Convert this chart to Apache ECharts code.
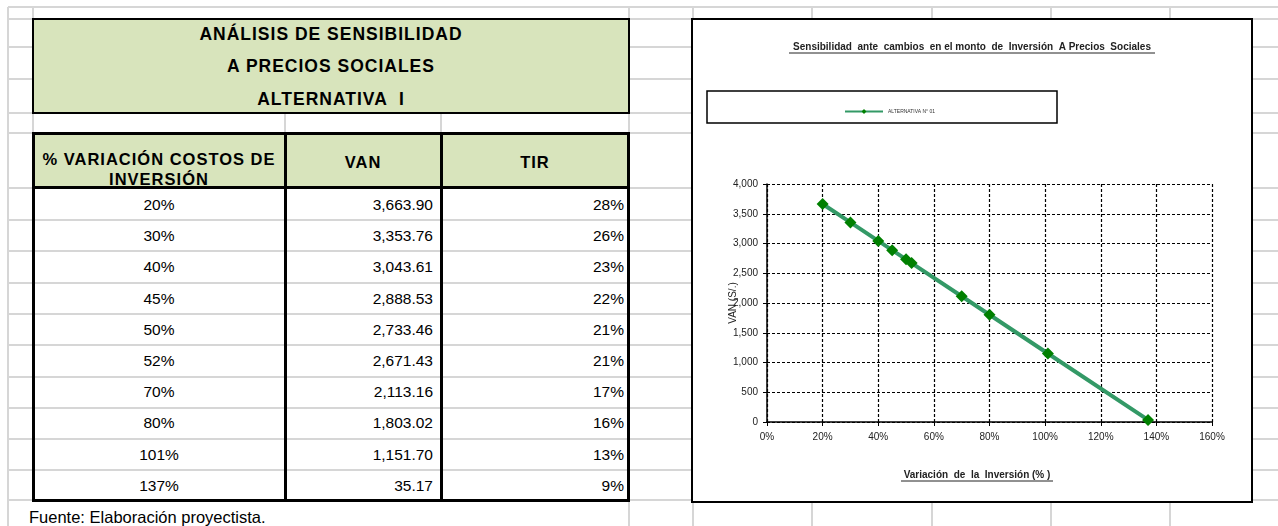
<!DOCTYPE html>
<html>
<head>
<meta charset="utf-8">
<script src="https://cdn.jsdelivr.net/npm/echarts@6/dist/echarts.min.js"></script>
<style>
  body {
    margin: 0;
    width: 1278px;
    height: 526px;
    overflow: hidden;
    background: #fff;
    position: relative;
    font-family: "Liberation Sans", Arial, sans-serif;
  }
  #sheet div { position: absolute; box-sizing: border-box; white-space: nowrap; }
  #chartBox {
    position: absolute;
    left: 691px;
    top: 18px;
    width: 558px;
    height: 481px;
    border: 2px solid #000;
    background: #fff;
  }
  #chart { width: 100%; height: 100%; }
</style>
</head>
<body>
<div id="sheet"></div>
<div id="chartBox"><div id="chart"></div></div>

<script>
// datos de la tabla / gráfico
const variacion = [20, 30, 40, 45, 50, 52, 70, 80, 101, 137]; // % variación costos de inversión
const van = [3663.90, 3353.76, 3043.61, 2888.53, 2733.46, 2671.43, 2113.16, 1803.02, 1151.70, 35.17];
const tir = [28, 26, 23, 22, 21, 21, 17, 16, 13, 9]; // %

const tituloTabla = ["ANÁLISIS DE SENSIBILIDAD", "A PRECIOS SOCIALES", "ALTERNATIVA  I"];
const encabezadoVariacion = ["% VARIACIÓN COSTOS DE", "INVERSIÓN"];
const encabezados = ["VAN", "TIR"];
const fuente = "Fuente: Elaboración proyectista.";

const tituloGrafico = "Sensibilidad  ante  cambios  en el monto  de  Inversión  A Precios  Sociales";
const nombreSerie = "ALTERNATIVA N° 01";
const nombreEjeX = "Variación  de  la  Inversión (% )";
const nombreEjeY = "VAN (S/.)";

// ---- hoja de cálculo (fondo) ----
const sheet = document.getElementById("sheet");
function add(css, html) {
  const d = document.createElement("div");
  d.style.cssText = css;
  if (html != null) d.innerHTML = html;
  sheet.appendChild(d);
  return d;
}

const gridColor = "#d6d6d6";
const hLines = [7, 19, 47, 79, 113, 133, 188, 220, 251, 283, 314, 345, 377, 408, 439, 470, 500];
hLines.forEach(y => add(`left:8px;top:${y - 1}px;width:1270px;height:2px;background:${gridColor}`));
// [x, y desde, y hasta]
const vLines = [[8, 7, 526], [33, 7, 500], [285, 113, 133], [441, 113, 133], [629, 7, 526],
                [693, 7, 526], [812, 7, 526], [932, 7, 526], [1051, 7, 526], [1170, 7, 526]];
vLines.forEach(([x, y1, y2]) => add(`left:${x - 1}px;top:${y1}px;width:2px;height:${y2 - y1}px;background:${gridColor}`));

// recuadro del título
add("left:32px;top:18px;width:598px;height:96px;border:2px solid #000;background:#d8e4bc");
const tituloCentros = [34, 66, 99];
tituloTabla.forEach((t, i) => add(
  `left:33px;width:596px;top:${tituloCentros[i] - 10}px;height:20px;line-height:20px;text-align:center;font-weight:bold;font-size:17.5px;letter-spacing:1px;white-space:pre`, t));

// tabla
const cols = [33, 285, 441, 629];
const rowTop = 188, rowH = 31.2;
const cabecera = "height:20px;line-height:20px;text-align:center;font-weight:bold;font-size:16.5px;letter-spacing:1px";
add("left:33px;top:133px;width:596px;height:55px;background:#d8e4bc");
add(`left:${cols[0]}px;width:${cols[1] - cols[0]}px;top:149px;${cabecera}`, encabezadoVariacion[0]);
add(`left:${cols[0]}px;width:${cols[1] - cols[0]}px;top:169px;${cabecera}`, encabezadoVariacion[1]);
encabezados.forEach((t, i) => add(
  `left:${cols[i + 1]}px;width:${cols[i + 2] - cols[i + 1]}px;top:152px;${cabecera}`, t));

variacion.forEach((v, i) => {
  const top = rowTop + i * rowH + 8;
  add(`left:${cols[0]}px;width:${cols[1] - cols[0]}px;top:${top}px;height:18px;line-height:18px;text-align:center;font-size:15.5px`, v + "%");
  add(`left:${cols[1]}px;width:${cols[2] - cols[1] - 8}px;top:${top}px;height:18px;line-height:18px;text-align:right;font-size:15.5px`,
    van[i].toLocaleString("en-US", { minimumFractionDigits: 2, maximumFractionDigits: 2 }));
  add(`left:${cols[2]}px;width:${cols[3] - cols[2] - 5}px;top:${top}px;height:18px;line-height:18px;text-align:right;font-size:15.5px`, tir[i] + "%");
});

// bordes de la tabla
add("left:32px;top:132px;width:598px;height:370px;border:3px solid #000");
add("left:284px;top:133px;width:3px;height:368px;background:#000");
add("left:440px;top:133px;width:3px;height:368px;background:#000");
add("left:33px;top:186px;width:596px;height:3px;background:#000");

add("left:29px;top:507px;height:20px;line-height:20px;font-size:16.5px;background:#fff;padding-right:4px", fuente);

// ---- gráfico ----
const chart = echarts.init(document.getElementById("chart"));
const ejeFuente = "Liberation Sans, Arial, sans-serif";

chart.setOption({
  animation: false,
  textStyle: { fontFamily: ejeFuente },
  // borde superior y derecho del área de trazado, gris punteado
  grid: { left: 74, right: 39, top: 164, bottom: 79 },
  legend: {
    left: 146,
    top: 84,
    itemWidth: 38,
    itemHeight: 6,
    itemGap: 4,
    textStyle: { fontSize: 5, color: "#333" },
    data: [nombreSerie]
  },
  xAxis: {
    type: "value",
    min: 0,
    max: 160,
    interval: 20,
    axisLine: { lineStyle: { color: "#000", width: 1.5 } },
    axisTick: { length: 4, lineStyle: { color: "#000" } },
    axisLabel: { formatter: "{value}%", fontSize: 10, color: "#222", margin: 10 },
    splitLine: { show: true, lineStyle: { color: "#000", type: [3, 2], width: 1.2 } }
  },
  yAxis: {
    type: "value",
    min: 0,
    max: 4000,
    interval: 500,
    name: nombreEjeY,
    nameLocation: "middle",
    nameGap: 29,
    nameMoveOverlap: false,
    nameTextStyle: { fontSize: 10, color: "#222" },
    axisLine: { show: true, lineStyle: { color: "#000", width: 1.5 } },
    axisTick: { show: true, length: 4, lineStyle: { color: "#000" } },
    axisLabel: {
      fontSize: 10,
      color: "#222",
      margin: 9,
      formatter: v => v.toLocaleString("en-US")
    },
    splitLine: { show: true, lineStyle: { color: "#000", type: [3, 2], width: 1.2 } }
  },
  series: [
    {
      type: "line",
      name: nombreSerie,
      data: variacion.map((x, i) => [x, van[i]]),
      symbol: "diamond",
      symbolSize: 12,
      lineStyle: { color: "#339966", width: 4 },
      itemStyle: { color: "#008000" }
    }
  ],
  graphic: [
    {
      type: "rect",
      shape: { x: 14, y: 71, width: 350, height: 32 },
      style: { fill: "none", stroke: "#000", lineWidth: 1.5 }
    },
    {
      type: "text",
      x: 279,
      y: 27,
      style: { text: tituloGrafico, font: "bold 10px " + ejeFuente, align: "center", verticalAlign: "middle", fill: "#222" }
    },
    {
      type: "line",
      shape: { x1: 96, y1: 33, x2: 462, y2: 33 },
      style: { stroke: "#222", lineWidth: 1 }
    },
    {
      type: "text",
      x: 284,
      y: 455,
      style: { text: nombreEjeX, font: "bold 10px " + ejeFuente, align: "center", verticalAlign: "middle", fill: "#222" }
    },
    {
      type: "line",
      shape: { x1: 208, y1: 461, x2: 360, y2: 461 },
      style: { stroke: "#222", lineWidth: 1 }
    }
  ]
});
</script>
</body>
</html>
